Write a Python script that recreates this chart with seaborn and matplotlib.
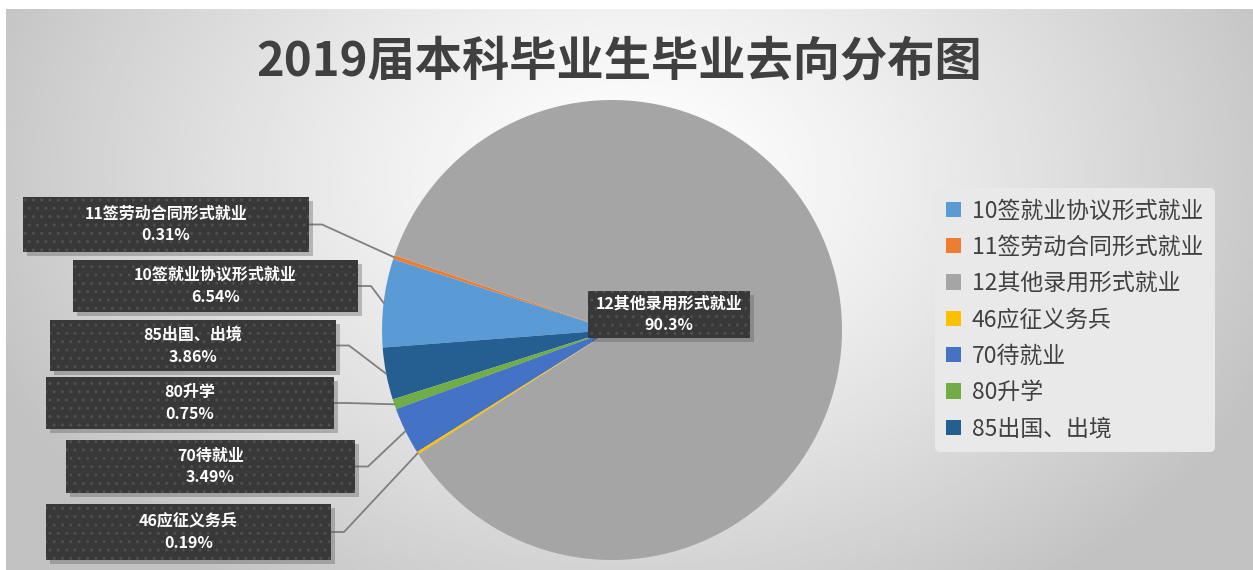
import numpy as np
import matplotlib
matplotlib.use("Agg")
import matplotlib.pyplot as plt
import matplotlib.patches as mpatches
import seaborn as sns

# data, in legend order
categories = ["10签就业协议形式就业", "11签劳动合同形式就业", "12其他录用形式就业",
              "46应征义务兵", "70待就业", "80升学", "85出国、出境"]
shares = [6.54, 0.31, 90.3, 0.19, 3.49, 0.75, 3.86]
pct_labels = ["6.54%", "0.31%", "90.3%", "0.19%", "3.49%", "0.75%", "3.86%"]
colors = ["#5B9BD5", "#ED7D31", "#A5A5A5", "#FFC000", "#4472C4", "#70AD47", "#255E91"]
# order the slices are drawn around the pie (counter-clockwise)
draw_order = [1, 0, 6, 5, 4, 3, 2]

W, H = 1253, 570
sns.set_style("white")
plt.rcParams['font.family'] = ['Noto Sans CJK SC', 'DejaVu Sans']

fig = plt.figure(figsize=(W / 100, H / 100), dpi=100)
ax = fig.add_axes([0, 0, 1, 1])

def py(y):
    # pixel row (from top) -> data y
    return H - y

# radial background
gx, gy = np.meshgrid(np.linspace(0, W, 400), np.linspace(0, H, 200))
d = np.sqrt(((gx - 630) / 700) ** 2 + ((gy - py(170)) / 520) ** 2)
shade = np.clip(1.0 - 0.24 * d ** 1.3, 0.76, 1.0)
ax.imshow(shade, extent=[6, W, 0, py(9)], cmap='gray', vmin=0, vmax=1,
          origin='lower', aspect='auto', zorder=0)

# pie
cx, cy, r = 612, py(330), 230
vals = [shares[i] for i in draw_order]
cols = [colors[i] for i in draw_order]
wedges, _ = ax.pie(vals, colors=cols, startangle=161, counterclock=True,
                   center=(cx, cy), radius=r, frame=True,
                   wedgeprops=dict(linewidth=0))
ax.set_xlim(0, W)
ax.set_ylim(0, H)
ax.set_aspect('equal')
ax.axis('off')

def label_box(x0, y0, x1, y1, lines, fs=11.5):
    shadow = mpatches.Rectangle((x0 + 4, py(y1) - 4), x1 - x0, y1 - y0,
                                facecolor='#555555', alpha=0.35, linewidth=0, zorder=4)
    ax.add_patch(shadow)
    box = mpatches.Rectangle((x0, py(y1)), x1 - x0, y1 - y0, facecolor='#383838',
                             edgecolor='#4f4f4f', hatch='..', linewidth=0, zorder=5)
    ax.add_patch(box)
    xm = (x0 + x1) / 2
    ym = (y0 + y1) / 2
    ax.text(xm, py(ym - 11), lines[0], ha='center', va='center', color='white',
            fontsize=fs, fontweight='bold', zorder=6)
    ax.text(xm, py(ym + 11), lines[1], ha='center', va='center', color='white',
            fontsize=fs, fontweight='bold', zorder=6)

# label boxes (pixel layout) keyed by category index
boxes = {1: (23, 197, 309, 252), 0: (73, 260, 358, 312), 6: (50, 320, 336, 371),
         5: (46, 377, 334, 429), 4: (66, 440, 355, 493), 3: (46, 504, 331, 560)}

for k, cat in enumerate(draw_order):
    w = wedges[k]
    if cat not in boxes:
        continue
    x0, y0, x1, y1 = boxes[cat]
    th = np.deg2rad((w.theta1 + w.theta2) / 2)
    ex, ey = cx + r * np.cos(th), cy + r * np.sin(th)
    ym = py((y0 + y1) / 2)
    ax.plot([x1, x1 + 13, ex], [ym, ym, ey], color='#7f7f7f', lw=1.3, zorder=3)
    label_box(x0, y0, x1, y1, [categories[cat], pct_labels[cat]])

label_box(588, 291, 750, 338, [categories[2], pct_labels[2]])

# title
ax.text(619, py(61), "2019届本科毕业生毕业去向分布图", ha='center', va='center',
        fontsize=34, fontweight='bold', color='#404040', zorder=6)

# legend
handles = [mpatches.Patch(facecolor=c, edgecolor='none', label=l)
           for c, l in zip(colors, categories)]
leg = ax.legend(handles=handles, loc='upper left', bbox_to_anchor=(935 / W, 1 - 188 / H),
                bbox_transform=fig.transFigure, fontsize=16.5, frameon=True,
                borderaxespad=0, handlelength=0.65, handleheight=0.65, handletextpad=0.45,
                labelspacing=0.58, borderpad=0.5, labelcolor='#404040')
leg.get_frame().set_facecolor('#e9e9e9')
leg.get_frame().set_edgecolor('none')
leg.get_frame().set_alpha(1)

fig.savefig("out.png", dpi=100, facecolor='white')
